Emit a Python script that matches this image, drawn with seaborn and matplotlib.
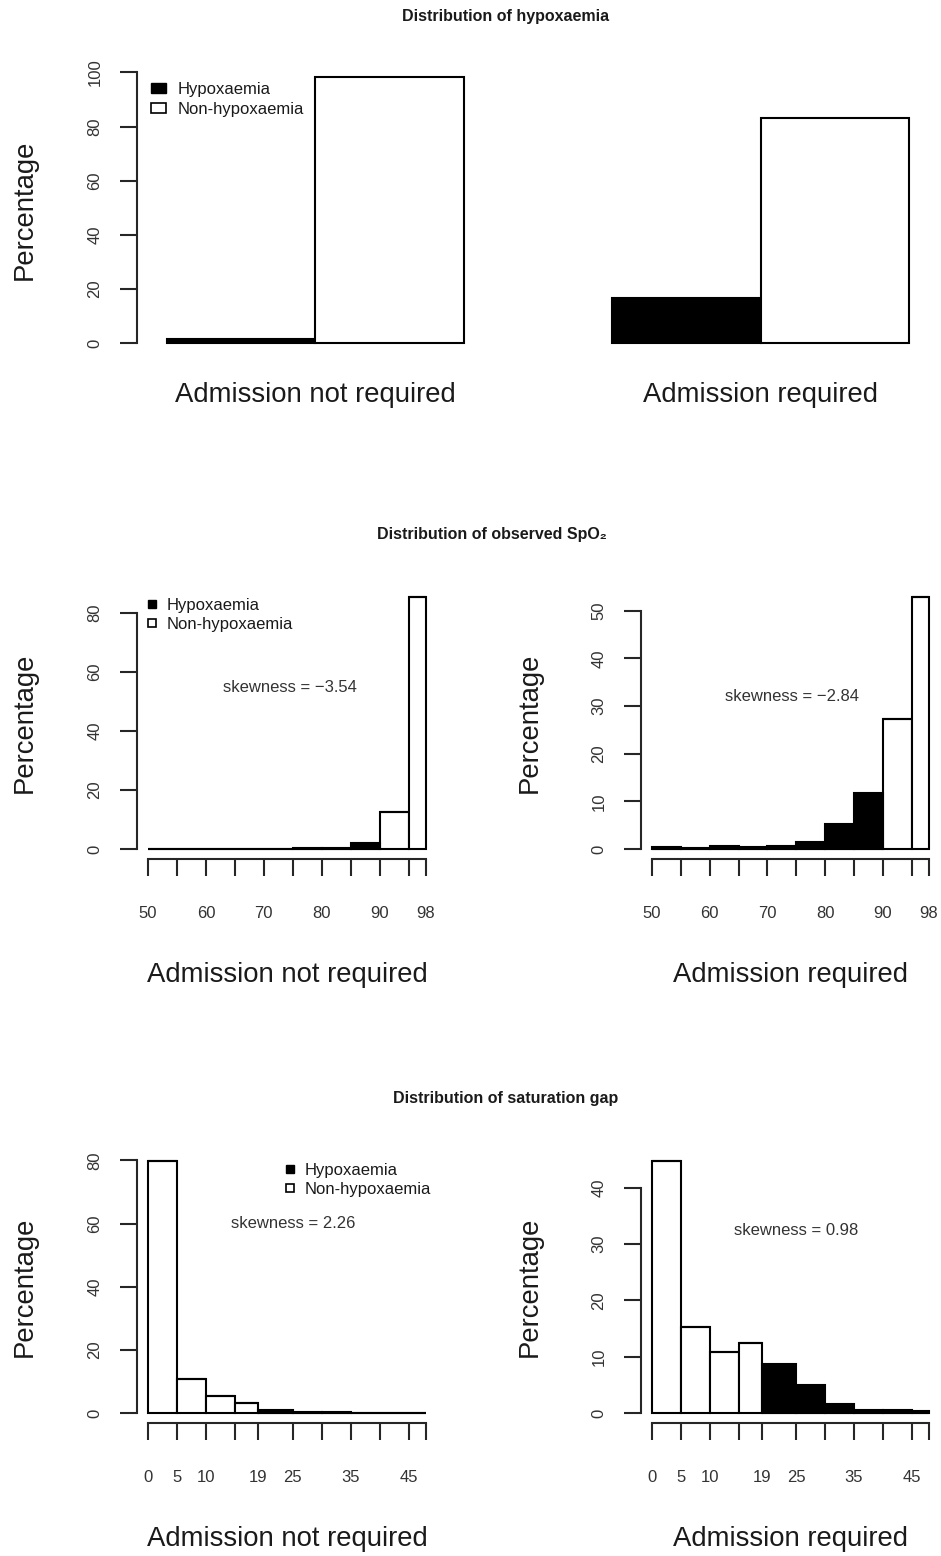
import matplotlib
matplotlib.use("Agg")
import matplotlib.pyplot as plt
from matplotlib.lines import Line2D
from matplotlib.patches import Patch
import pandas as pd
import seaborn as sns


sns.set_style("white")
plt.rcParams["font.family"] = ["Liberation Sans", "DejaVu Sans"]
plt.rcParams["text.color"] = "#1a1a1a"
plt.rcParams["axes.labelcolor"] = "#1a1a1a"

W, H = 941, 1556

STATUS = ["Hypoxaemia", "Non-hypoxaemia"]
PALETTE = {"Hypoxaemia": "black", "Non-hypoxaemia": "white"}

# top panel: share of hypoxaemia per admission group
ADMISSION = ["Admission not required", "Admission required"]
HYPOX_PCT = [1.6, 16.8]
NON_HYPOX_PCT = [98.4, 83.2]

# observed SpO2 histogram (percent per bin)
SPO2_EDGES = [50, 55, 60, 65, 70, 75, 80, 85, 90, 95, 98]
SPO2_NOT_REQ = [0.05, 0.03, 0.04, 0.05, 0.08, 0.15, 0.45, 2.0, 12.4, 85.4]
SPO2_REQ = [0.4, 0.1, 0.6, 0.3, 0.7, 1.5, 5.2, 11.7, 27.3, 52.9]
SPO2_HYPOX_BINS = 8
SPO2_LABELS = [50, 60, 70, 80, 90, 98]
SPO2_SKEW = ["\u22123.54", "\u22122.84"]

# saturation gap histogram (percent per bin)
GAP_EDGES = [0, 5, 10, 15, 19, 25, 30, 35, 40, 45, 48]
GAP_NOT_REQ = [79.8, 10.7, 5.3, 3.2, 1.0, 0.4, 0.2, 0.08, 0.04, 0.03]
GAP_REQ = [44.7, 15.3, 10.9, 12.4, 8.7, 5.0, 1.6, 0.6, 0.45, 0.3]
GAP_HYPOX_START = 4  # bins from 19 upward are hypoxaemic
GAP_LABELS = [0, 5, 10, 19, 25, 35, 45]
GAP_SKEW = ["2.26", "0.98"]

BIG = 19.8


def px_axes(fig, left, right, top, bottom):
    return fig.add_axes([left / W, 1 - bottom / H, (right - left) / W, (bottom - top) / H])


def style_axis(ax, yticks):
    sns.despine(ax=ax)
    ax.spines["left"].set_linewidth(1.5)
    ax.spines["bottom"].set_linewidth(1.5)
    ax.spines["left"].set_bounds(yticks[0], yticks[-1])
    ax.set_yticks(yticks)
    ax.tick_params(axis="y", direction="out", length=12, width=1.5, pad=13,
                   labelsize=12, labelrotation=90, labelcolor="#333333", left=True)
    for lab in ax.get_yticklabels():
        lab.set_verticalalignment("center")


def hist_frame(edges, values, hypox_mask):
    mids = [(a + b) / 2 for a, b in zip(edges[:-1], edges[1:])]
    status = [STATUS[0] if h else STATUS[1] for h in hypox_mask]
    return pd.DataFrame({"mid": mids, "pct": values, "status": status})


def draw_hist(ax, edges, values, hypox_mask, yticks, labels, skew, xlabel, skew_xy):
    df = hist_frame(edges, values, hypox_mask)
    sns.histplot(data=df, x="mid", weights="pct", bins=edges, hue="status",
                 hue_order=STATUS, palette=PALETTE, multiple="stack", alpha=1,
                 edgecolor="black", linewidth=1.5, legend=False, ax=ax)
    rng = edges[-1] - edges[0]
    ymax = max(values)
    ax.set_xlim(edges[0] - 0.04 * rng, edges[-1] + 0.04 * rng)
    ax.set_ylim(-0.04 * ymax, 1.04 * ymax)
    style_axis(ax, yticks)
    ax.spines["bottom"].set_bounds(edges[0], edges[-1])
    ax.set_xticks(edges)
    ax.set_xticklabels([str(e) if e in labels else "" for e in edges])
    ax.tick_params(axis="x", direction="out", length=12, width=1.5, pad=22,
                   labelsize=12, labelcolor="#333333", bottom=True)
    ax.set_ylabel("Percentage", fontsize=BIG)
    ax.yaxis.set_label_coords(-0.33, 0.5)
    ax.set_xlabel(xlabel, fontsize=BIG)
    ax.xaxis.set_label_coords(0.5, -0.38)
    ax.text(skew_xy[0], skew_xy[1], f"skewness = {skew}", ha="center", va="center",
            fontsize=12, color="#333333")


def marker_legend(ax, anchor):
    handles = [
        Line2D([], [], marker="s", linestyle="none", markersize=6,
               markerfacecolor="black", markeredgecolor="black"),
        Line2D([], [], marker="s", linestyle="none", markersize=6, markeredgewidth=1.2,
               markerfacecolor="white", markeredgecolor="black"),
    ]
    ax.legend(handles, STATUS, loc="upper left", bbox_to_anchor=anchor, frameon=False,
              borderaxespad=0, borderpad=0, handlelength=0.6, handletextpad=0.6,
              labelspacing=0.25, fontsize=12)


fig = plt.figure(figsize=(W / 100, H / 100), dpi=100)

# ---- top: grouped bars ----
ax = px_axes(fig, 137, 939, 66, 354)
top_df = pd.DataFrame({
    "admission": ADMISSION * 2,
    "pct": HYPOX_PCT + NON_HYPOX_PCT,
    "status": [STATUS[0]] * 2 + [STATUS[1]] * 2,
})
sns.barplot(data=top_df, x="admission", y="pct", hue="status", hue_order=STATUS,
            order=ADMISSION, palette=PALETTE, width=2 / 3, saturation=1,
            edgecolor="black", linewidth=1.5, errorbar=None, legend=False, ax=ax)
ax.set_xlim(-0.4, 1.4)
top_max = max(NON_HYPOX_PCT)
ax.set_ylim(-0.04 * top_max, 1.04 * top_max)
style_axis(ax, [0, 20, 40, 60, 80, 100])
ax.spines["bottom"].set_visible(False)
ax.tick_params(axis="x", length=0, pad=20, labelsize=BIG, labelcolor="#1a1a1a")
ax.set_xlabel("")
ax.set_ylabel("Percentage", fontsize=BIG)
ax.yaxis.set_label_coords(-0.124, 0.5)
ax.legend([Patch(facecolor="black", edgecolor="black"),
           Patch(facecolor="white", edgecolor="black", linewidth=1.2)],
          STATUS, loc="upper left", bbox_to_anchor=(0.018, 0.945), frameon=False,
          borderaxespad=0, borderpad=0, handlelength=0.9, handleheight=0.6,
          handletextpad=0.7, labelspacing=0.3, fontsize=12)
fig.text(506 / W, 1 - 17 / H, "Distribution of hypoxaemia", ha="center", va="center",
         fontsize=11.5, fontweight="bold")

# ---- middle: observed SpO2 ----
spo2_mask = [i < SPO2_HYPOX_BINS for i in range(len(SPO2_NOT_REQ))]
ax = px_axes(fig, 137, 437, 587, 859)
draw_hist(ax, SPO2_EDGES, SPO2_NOT_REQ, spo2_mask, [0, 20, 40, 60, 80], SPO2_LABELS,
          SPO2_SKEW[0], ADMISSION[0], (74.5, 54.6))
marker_legend(ax, (0.033, 0.96))

ax = px_axes(fig, 641, 940, 587, 859)
draw_hist(ax, SPO2_EDGES, SPO2_REQ, spo2_mask, [0, 10, 20, 30, 40, 50], SPO2_LABELS,
          SPO2_SKEW[1], ADMISSION[1], (74.3, 32.1))
fig.text(492 / W, 1 - 535 / H, "Distribution of observed SpO\u2082", ha="center",
         va="center", fontsize=11.5, fontweight="bold")

# ---- bottom: saturation gap ----
gap_mask = [i >= GAP_HYPOX_START for i in range(len(GAP_NOT_REQ))]
ax = px_axes(fig, 137, 437, 1151, 1423)
draw_hist(ax, GAP_EDGES, GAP_NOT_REQ, gap_mask, [0, 20, 40, 60, 80], GAP_LABELS,
          GAP_SKEW[0], ADMISSION[0], (25, 60))
marker_legend(ax, (0.493, 0.956))

ax = px_axes(fig, 641, 940, 1151, 1423)
draw_hist(ax, GAP_EDGES, GAP_REQ, gap_mask, [0, 10, 20, 30, 40], GAP_LABELS,
          GAP_SKEW[1], ADMISSION[1], (25, 32.3))
fig.text(506 / W, 1 - 1098 / H, "Distribution of saturation gap", ha="center",
         va="center", fontsize=11.5, fontweight="bold")

fig.savefig("out.png", dpi=100)
